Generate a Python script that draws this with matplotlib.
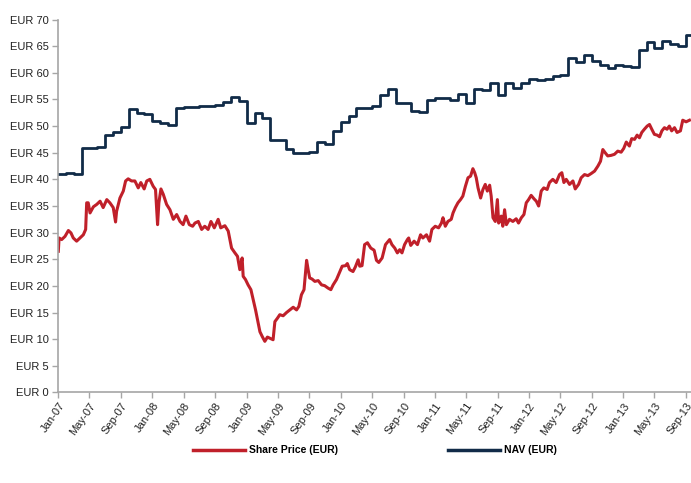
import numpy as np
import pandas as pd
import matplotlib
matplotlib.use("Agg")
import matplotlib.pyplot as plt
import matplotlib.dates as mdates
from matplotlib.lines import Line2D

plt.rcParams['font.family'] = ['Liberation Sans', 'DejaVu Sans']

# NAV, monthly values from Jan-07
nav_start = "2007-01-01"
nav = [41.0, 41.2, 41.0, 45.8, 45.9, 46.0, 48.3, 48.9, 49.9, 53.2, 52.5, 52.3,
       50.9, 50.5, 50.15, 53.3, 53.6, 53.6, 53.7, 53.8, 54.0, 54.5, 55.5, 54.7,
       50.65, 52.5, 51.6, 47.4, 47.4, 45.7, 45.0, 45.0, 45.2, 47.0, 46.7, 49.0,
       50.8, 51.9, 53.35, 53.3, 53.8, 55.85, 57.05, 54.4, 54.4, 52.85, 52.6, 54.9,
       55.2, 55.3, 54.85, 56.0, 54.3, 57.05, 56.8, 58.05, 55.8, 58.0, 57.2, 58.0,
       58.9, 58.7, 58.9, 59.4, 59.55, 62.7, 62.1, 63.3, 62.25, 61.4, 60.9, 61.5,
       61.3, 61.0, 64.3, 65.7, 64.6, 65.9, 65.4, 64.95, 67.1]

# share price: days since 1 Jan 2007, value in EUR
sp_day = [0, 3, 13, 26, 39, 49, 58, 71, 84, 97, 106, 110, 116, 123, 136, 149, 162, 174,
          188, 200, 213, 222, 226, 239, 252, 261, 271, 284, 297, 310, 320, 333, 343, 355,
          368, 377, 385, 390, 398, 407, 420, 433, 446, 459, 472, 484, 495, 508, 521, 530,
          543, 556, 568, 581, 592, 605, 620, 630, 646, 659, 672, 685, 695, 704, 713, 717,
          726, 736, 747, 756, 765, 773, 782, 791, 801, 811, 820, 833, 840, 850, 859, 872,
          885, 898, 911, 924, 933, 943, 953, 963, 969, 975, 984, 995, 1008, 1021, 1033,
          1046, 1057, 1066, 1079, 1092, 1101, 1114, 1121, 1130, 1143, 1152, 1163, 1169,
          1178, 1188, 1199, 1212, 1225, 1234, 1243, 1256, 1269, 1285, 1294, 1305, 1315,
          1324, 1333, 1343, 1354, 1359, 1367, 1380, 1393, 1405, 1414, 1428, 1440, 1449,
          1462, 1475, 1486, 1492, 1501, 1511, 1524, 1531, 1540, 1550, 1560, 1569, 1579,
          1589, 1599, 1608, 1615, 1621, 1628, 1638, 1647, 1656, 1664, 1673, 1679, 1686,
          1695, 1703, 1708, 1718, 1724, 1731, 1738, 1750, 1763, 1776, 1785, 1796, 1806,
          1815, 1824, 1834, 1845, 1854, 1863, 1873, 1883, 1896, 1905, 1918, 1931, 1944,
          1953, 1961, 1970, 1983, 1996, 2005, 2018, 2028, 2041, 2054, 2067, 2080, 2093,
          2103, 2112, 2121, 2131, 2144, 2157, 2170, 2183, 2193, 2203, 2215, 2224, 2235,
          2245, 2254, 2263, 2273, 2284, 2293, 2302, 2312, 2323, 2332, 2341, 2351, 2361,
          2370, 2379, 2390, 2400, 2413, 2422, 2435, 2448]
sp_val = [26.5, 29.0, 28.7, 29.3, 30.4, 29.95, 29.0, 28.4, 29.0, 29.6, 30.6, 35.6, 35.6, 33.7,
          34.85, 35.3, 35.9, 34.7, 36.2, 35.6, 34.7, 32.0, 34.0, 36.5, 37.8, 39.7, 40.1, 39.7,
          39.7, 38.4, 39.4, 38.2, 39.7, 40.0, 38.7, 38.1, 31.5, 35.6, 38.2, 37.2, 35.3, 34.3,
          32.5, 33.4, 32.1, 31.5, 33.1, 31.5, 31.2, 31.8, 32.1, 30.6, 31.2, 30.6, 32.1, 30.9,
          32.5, 30.9, 31.3, 30.3, 27.1, 26.2, 25.55, 23.05, 25.25, 21.8, 21.2, 20.2, 19.3,
          17.4, 15.5, 13.6, 11.4, 10.5, 9.6, 10.4, 10.2, 9.9, 13.3, 13.95, 14.6, 14.4, 15.0,
          15.5, 16.0, 15.5, 16.15, 18.35, 19.3, 24.8, 23.05, 21.5, 21.3, 20.85, 21.0, 20.2,
          20.05, 19.6, 19.3, 20.2, 21.2, 22.7, 23.7, 23.8, 24.2, 23.05, 22.7, 23.55, 24.9,
          23.7, 23.8, 27.75, 28.1, 27.1, 26.7, 24.8, 24.4, 25.25, 27.75, 28.7, 27.75, 27.1,
          26.2, 26.8, 26.2, 27.75, 28.7, 29.0, 27.6, 28.4, 27.75, 29.6, 29.0, 29.6, 28.4,
          30.6, 31.2, 30.9, 31.8, 32.8, 31.2, 32.1, 32.5, 33.7, 34.7, 35.6, 36.2, 36.85,
          38.7, 40.3, 40.6, 42.0, 41.25, 40.3, 38.4, 36.5, 38.1, 39.05, 37.8, 38.9, 36.85,
          32.8, 32.1, 36.2, 31.8, 33.1, 31.2, 34.3, 31.5, 32.5, 32.1, 32.6, 31.8, 32.8, 33.4,
          35.6, 36.2, 37.0, 36.35, 35.9, 35.0, 37.8, 38.4, 38.1, 39.4, 40.0, 39.4, 40.9,
          41.25, 39.4, 40.0, 39.05, 39.7, 38.2, 39.05, 40.3, 40.9, 40.7, 41.1, 41.55, 42.5,
          43.4, 45.6, 45.0, 44.4, 44.5, 44.7, 45.3, 45.1, 45.8, 47.0, 46.25, 47.65, 47.5,
          48.3, 47.8, 48.8, 49.4, 50.0, 50.3, 49.4, 48.45, 48.3, 48.0, 49.1, 49.7, 49.4,
          50.0, 49.1, 49.7, 48.8, 49.1, 51.1, 50.8, 51.1]

red = "#C0202A"
navy = "#112B48"
grey = "#A6A6A6"

x_end = pd.Timestamp("2013-09-20")
nav_dates = list(pd.date_range(nav_start, periods=len(nav), freq="MS")) + [x_end]
sp_dates = pd.Timestamp(nav_start) + pd.to_timedelta(sp_day, unit="D")

fig = plt.figure(figsize=(6.91, 4.83), dpi=100)
ax = fig.add_axes([0.0844, 0.1874, 0.9156, 0.7722])

ax.plot(sp_dates, sp_val, color=red, lw=2.2, solid_joinstyle="round")
ax.step(nav_dates, nav + [nav[-1]], where="post", color=navy, lw=2.0)

ax.set_ylim(0, 70)
ax.set_xlim(pd.Timestamp("2007-01-01"), x_end)
ax.set_yticks(np.arange(0, 71, 5))
ax.yaxis.set_major_formatter(plt.FuncFormatter(lambda v, p: "EUR %d" % v))

ax.xaxis.set_major_locator(mdates.MonthLocator(bymonth=[1, 5, 9]))
ax.xaxis.set_major_formatter(mdates.DateFormatter("%b-%y"))
for lab in ax.get_xticklabels():
    lab.set_rotation(55)
    lab.set_ha("right")
    lab.set_rotation_mode("anchor")

ax.tick_params(axis="both", labelsize=8, colors=grey, labelcolor="#222222", length=4, width=1)
ax.tick_params(axis="y", pad=3)
ax.tick_params(axis="x", pad=2)
for s in ["top", "right"]:
    ax.spines[s].set_visible(False)
for s in ["left", "bottom"]:
    ax.spines[s].set_color(grey)
    ax.spines[s].set_linewidth(1.2)

handles = [Line2D([], [], color=red, lw=2.5), Line2D([], [], color=navy, lw=2.5)]
fig.legend(handles, ["Share Price (EUR)", "NAV (EUR)"], loc="center",
           bbox_to_anchor=(0.5427, 0.068), ncol=2, frameon=False,
           prop={"weight": "bold", "size": 7.5}, handlelength=5.0,
           handletextpad=0.4, columnspacing=10.5)

fig.savefig("out.png", dpi=100)
